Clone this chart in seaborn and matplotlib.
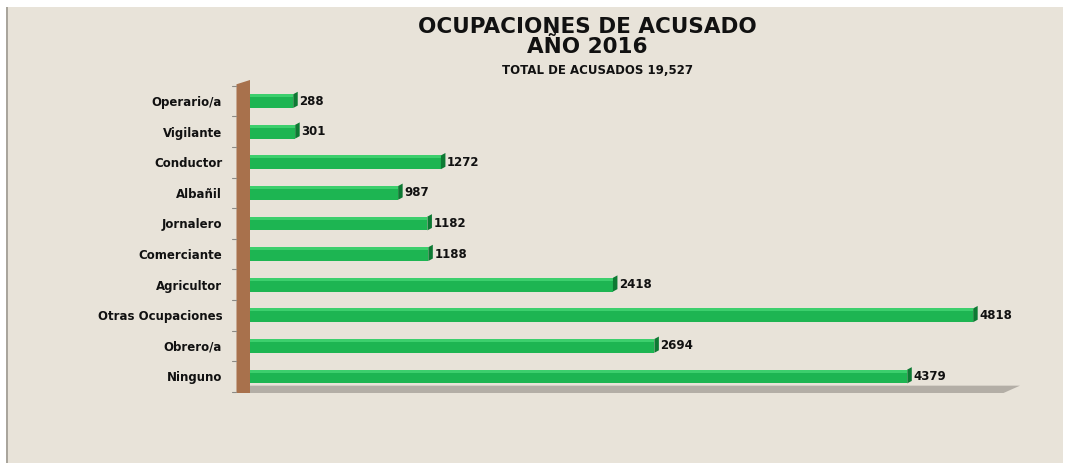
import matplotlib
matplotlib.use('Agg')
from matplotlib import pyplot as plt
from matplotlib.patches import Polygon, Rectangle
import pandas as pd
import seaborn as sns

sns.set_style('white')
plt.rcParams['font.family'] = ['DejaVu Sans']

ocupaciones = ['Operario/a', 'Vigilante', 'Conductor', 'Albañil', 'Jornalero',
               'Comerciante', 'Agricultor', 'Otras Ocupaciones', 'Obrero/a', 'Ninguno']
acusados = [288, 301, 1272, 987, 1182, 1188, 2418, 4818, 2694, 4379]
titulo = 'OCUPACIONES DE ACUSADO\nAÑO 2016'
subtitulo = 'TOTAL DE ACUSADOS 19,527'

df = pd.DataFrame({'Ocupacion': ocupaciones, 'Acusados': acusados})

bg = '#e8e3d9'
fig = plt.figure(figsize=(10.68, 4.63), dpi=100)
fig.patch.set_facecolor('white')
# beige card with grey left edge
fig.patches.append(Rectangle((7 / 1068, 0), 1056 / 1068, 456 / 463, transform=fig.transFigure,
                             facecolor=bg, edgecolor='none', zorder=-2))
fig.patches.append(Rectangle((6 / 1068, 0), 2 / 1068, 456 / 463, transform=fig.transFigure,
                             facecolor='#a9a59c', edgecolor='none', zorder=-2))

ax = fig.add_axes([250 / 1068, 1 - 393 / 463, 770 / 1068, 313 / 463])
ax.set_facecolor('none')

sns.barplot(data=df, y='Ocupacion', x='Acusados', orient='h', color='#1db552',
            width=0.45, saturation=1, edgecolor='none', ax=ax, zorder=3)

ax.set_xlim(0, 5130)
ax.set_ylim(9.54, -0.69)

# 3D look: lighter top strip and darker end cap on each bar
for p in list(ax.patches):
    x0, y0 = p.get_x(), p.get_y()
    w, h = p.get_width(), p.get_height()
    ax.add_patch(Rectangle((x0, y0), w, h * 0.22, facecolor='#3ccf6d', edgecolor='none', zorder=4))
    cap = 30
    ax.add_patch(Polygon([(x0 + w, y0 + h), (x0 + w, y0), (x0 + w + cap, y0 - 0.08),
                          (x0 + w + cap, y0 + h - 0.08)],
                         facecolor='#0d7a33', edgecolor='none', zorder=4, clip_on=False))
    ax.text(x0 + w + cap + 10, y0 + h / 2, f'{int(w)}', va='center', ha='left',
            fontsize=8.5, fontweight='bold', color='#111111', zorder=5)

# brown wall on the left and grey floor at the bottom
ax.add_patch(Polygon([(-90, 9.54), (-90, -0.55), (0, -0.69), (0, 9.54)],
                     facecolor='#a8714c', edgecolor='none', clip_on=False, zorder=2))
ax.add_patch(Polygon([(-90, 9.54), (0, 9.3), (5130, 9.3), (5020, 9.54)],
                     facecolor='#b3aea6', edgecolor='none', clip_on=False, zorder=1))
for k in range(0, 11):
    yb = k - 0.5
    ax.plot([-120, -90], [yb, yb], color='#8c8a85', lw=0.8, clip_on=False)

for s in ax.spines.values():
    s.set_visible(False)
ax.set_xticks([])
ax.set_xlabel('')
ax.set_ylabel('')
ax.tick_params(axis='y', length=0, pad=20)
ax.set_yticks(range(len(ocupaciones)))
ax.set_yticklabels(ocupaciones, fontsize=8.5, fontweight='bold', color='#111111')

fig.text(587 / 1068, 1 - 37 / 463, titulo, ha='center', va='center', fontsize=15.5,
         fontweight='bold', linespacing=1.05, color='#111111')
fig.text(597 / 1068, 1 - 70 / 463, subtitulo, ha='center', va='center', fontsize=8.5,
         fontweight='bold', color='#111111')

fig.savefig('out.png', dpi=100, facecolor=fig.get_facecolor())
